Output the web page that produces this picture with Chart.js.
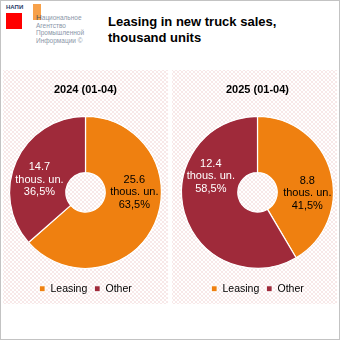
<!DOCTYPE html>
<html><head><meta charset="utf-8">
<script src="https://cdn.jsdelivr.net/npm/chart.js@4.4.0/dist/chart.umd.min.js"></script>
<style>
html,body{margin:0;padding:0;background:#fff;}
#wrap{position:relative;width:338px;height:338px;border:1px solid #c3c3c3;overflow:hidden;font-family:"Liberation Sans",Arial,sans-serif;}
.panel{position:absolute;top:69px;width:165px;height:234px;background-color:#fff;
background-image:radial-gradient(circle,#f4dcdc 0.6px,transparent 0.9px),radial-gradient(circle,#f4dcdc 0.6px,transparent 0.9px);
background-size:4px 4px;background-position:0 0,2px 2px;}
#p1{left:2px;} #p2{left:171px;}
#title{position:absolute;left:107px;top:13px;font-size:13px;font-weight:bold;line-height:16px;color:#000;}
#logo .t{position:absolute;font-size:6.5px;color:#8a96a8;line-height:7.7px;left:35px;top:13px;}
</style></head><body>
<div id="wrap">
 <div id="logo">
  <div style="position:absolute;left:5px;top:3px;font-size:6px;color:#2b3a67;font-weight:bold;">НАПИ</div>
  <div style="position:absolute;left:5px;top:12px;width:16px;height:16px;background:#ff0000;"></div>
  <div style="position:absolute;left:32px;top:3px;width:8px;height:16px;background:#f7a14a;"></div>
  <div class="t"><span style="color:#555;font-size:8px">Н</span>ациональное<br>Агентство<br>Промышленной<br>Информации ©</div>
 </div>
 <div id="title">Leasing in new truck sales,<br>thousand units</div>
 <div class="panel" id="p1"><canvas id="c1" width="165" height="234"></canvas></div>
 <div class="panel" id="p2"><canvas id="c2" width="165" height="234"></canvas></div>
</div>
<script>
const categories = ["Leasing", "Other"];
const periods = ["2024 (01-04)", "2025 (01-04)"];
const values2024 = [25.6, 14.7];
const values2025 = [8.8, 12.4];
const colors = ["#ef8010", "#9f2a3a"];
const labelColors = ["#000000", "#ffffff"];

const labelPlugin = {
  id: 'sliceLabels',
  afterDatasetsDraw(chart, args, opts) {
    const ctx = chart.ctx;
    const ds = chart.data.datasets[0];
    const total = ds.data.reduce((a, b) => a + b, 0);
    const meta = chart.getDatasetMeta(0);
    meta.data.forEach((arc, i) => {
      const p = arc.getProps(['x','y','startAngle','endAngle','innerRadius','outerRadius'], true);
      let mid = (p.startAngle + p.endAngle) / 2;
      if (opts.angles && opts.angles[i] != null) mid = opts.angles[i] * Math.PI / 180;
      const r = (p.innerRadius + p.outerRadius) / 2 + (opts.rshift ? opts.rshift[i] : 0);
      const cx = p.x + Math.cos(mid) * r;
      const cy = p.y + Math.sin(mid) * r;
      const pct = (ds.data[i] / total * 100).toFixed(1).replace('.', ',') + '%';
      const lines = [ds.data[i].toFixed(1), 'thous. un.', pct];
      ctx.save();
      ctx.font = '11px "Liberation Sans", Arial, sans-serif';
      ctx.fillStyle = labelColors[i];
      ctx.textAlign = 'center';
      ctx.textBaseline = 'middle';
      const lh = 12.7;
      lines.forEach((t, k) => ctx.fillText(t, cx, cy + (k - 1) * lh));
      ctx.restore();
    });
  }
};

function makeChart(id, title, values, labelOpts, pad) {
  return new Chart(document.getElementById(id), {
    type: 'doughnut',
    data: { labels: categories, datasets: [{ data: values, backgroundColor: colors, borderColor: '#ffffff', borderWidth: 1.2 }] },
    options: {
      responsive: false, animation: false, cutout: '26%',
      layout: { padding: pad },
      plugins: {
        title: { display: true, text: title, color: '#000', font: { family: '"Liberation Sans", Arial, sans-serif', size: 11, weight: 'bold' }, padding: { top: 13, bottom: 12 } },
        legend: { position: 'bottom', labels: { boxWidth: 6, boxHeight: 6, color: '#000', padding: 7, font: { family: '"Liberation Sans", Arial, sans-serif', size: 10.5 } } },
        tooltip: { enabled: false },
        sliceLabels: labelOpts
      }
    },
    plugins: [labelPlugin]
  });
}
makeChart('c1', periods[0], values2024, { angles: [0, 195.6], rshift: [1, 0] }, { left: 6, right: 6, top: 0, bottom: 0 });
makeChart('c2', periods[1], values2025, { angles: [1, 198.8], rshift: [2, 1.5] }, { left: 9, right: 3, top: 0, bottom: 0 });
</script>
</body></html>
